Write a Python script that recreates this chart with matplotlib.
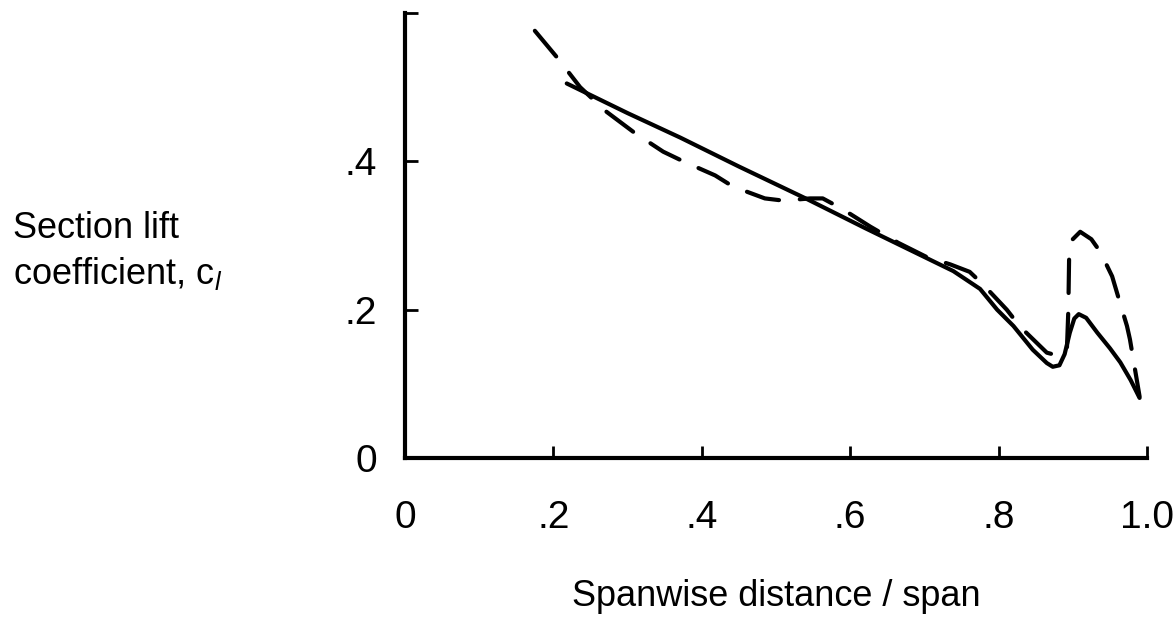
import matplotlib
matplotlib.use("Agg")
import matplotlib.pyplot as plt

# spanwise stations and section lift coefficient
solid_x = [0.218, 0.30, 0.371, 0.45, 0.542, 0.62, 0.698, 0.739, 0.775, 0.798,
           0.82, 0.846, 0.865, 0.873, 0.882, 0.889, 0.896, 0.902, 0.908, 0.918,
           0.933, 0.95, 0.964, 0.978, 0.99]
solid_y = [0.505, 0.465, 0.432, 0.393, 0.349, 0.310, 0.272, 0.252, 0.228, 0.200,
           0.178, 0.146, 0.128, 0.123, 0.125, 0.140, 0.169, 0.188, 0.194, 0.189,
           0.169, 0.148, 0.129, 0.105, 0.081]

dashed_x = [0.175, 0.205, 0.236, 0.27, 0.31, 0.348, 0.375, 0.418, 0.442, 0.485,
            0.51, 0.546, 0.563, 0.589, 0.627, 0.665, 0.703, 0.735, 0.761, 0.779,
            0.811, 0.829, 0.865, 0.88, 0.892, 0.894, 0.895, 0.90, 0.91, 0.925,
            0.937, 0.953, 0.961, 0.973, 0.977, 0.99]
dashed_y = [0.576, 0.54, 0.50, 0.468, 0.438, 0.413, 0.40, 0.381, 0.366, 0.35,
            0.347, 0.35, 0.35, 0.336, 0.312, 0.29, 0.271, 0.261, 0.251, 0.234,
            0.20, 0.177, 0.142, 0.138, 0.145, 0.20, 0.268, 0.295, 0.305, 0.295,
            0.278, 0.245, 0.218, 0.178, 0.16, 0.083]

x_ticks = [0, 0.2, 0.4, 0.6, 0.8, 1.0]
x_tick_labels = ["0", ".2", ".4", ".6", ".8", "1.0"]
y_ticks = [0, 0.2, 0.4, 0.6]
y_tick_labels = ["0", ".2", ".4", ""]

plt.rcParams["font.family"] = ["Liberation Sans", "DejaVu Sans"]
plt.rcParams["mathtext.fontset"] = "custom"
plt.rcParams["mathtext.it"] = "Liberation Sans:italic"
plt.rcParams["mathtext.rm"] = "Liberation Sans"

fig = plt.figure(figsize=(11.76, 6.24), dpi=100)
ax = fig.add_axes([405 / 1176, 1 - 458 / 624, 742 / 1176, 445 / 624])

ax.plot(solid_x, solid_y, color="black", lw=3.0, solid_capstyle="round")
ax.plot(dashed_x, dashed_y, color="black", lw=3.0, linestyle=(0, (8, 5)),
        dash_capstyle="round")

ax.set_xlim(0, 1.0)
ax.set_ylim(0, 0.6)
ax.spines["top"].set_visible(False)
ax.spines["right"].set_visible(False)
for side in ("left", "bottom"):
    ax.spines[side].set_linewidth(3)

ax.set_xticks(x_ticks)
ax.set_xticklabels(x_tick_labels)
ax.set_yticks(y_ticks)
ax.set_yticklabels(y_tick_labels)
ax.tick_params(axis="both", direction="in", length=9, width=2, labelsize=28)
ax.tick_params(axis="x", pad=30)
ax.tick_params(axis="y", pad=20)

fig.text(776 / 1176, 1 - 597 / 624, "Spanwise distance / span",
         ha="center", va="center", fontsize=26)
fig.text(13 / 1176, 1 - 228 / 624, "Section lift", ha="left", va="center",
         fontsize=26)
fig.text(13 / 1176, 1 - 273 / 624, r"coefficient, c$_{\mathit{l}}$",
         ha="left", va="center", fontsize=26)

fig.savefig("out.png", dpi=100)
